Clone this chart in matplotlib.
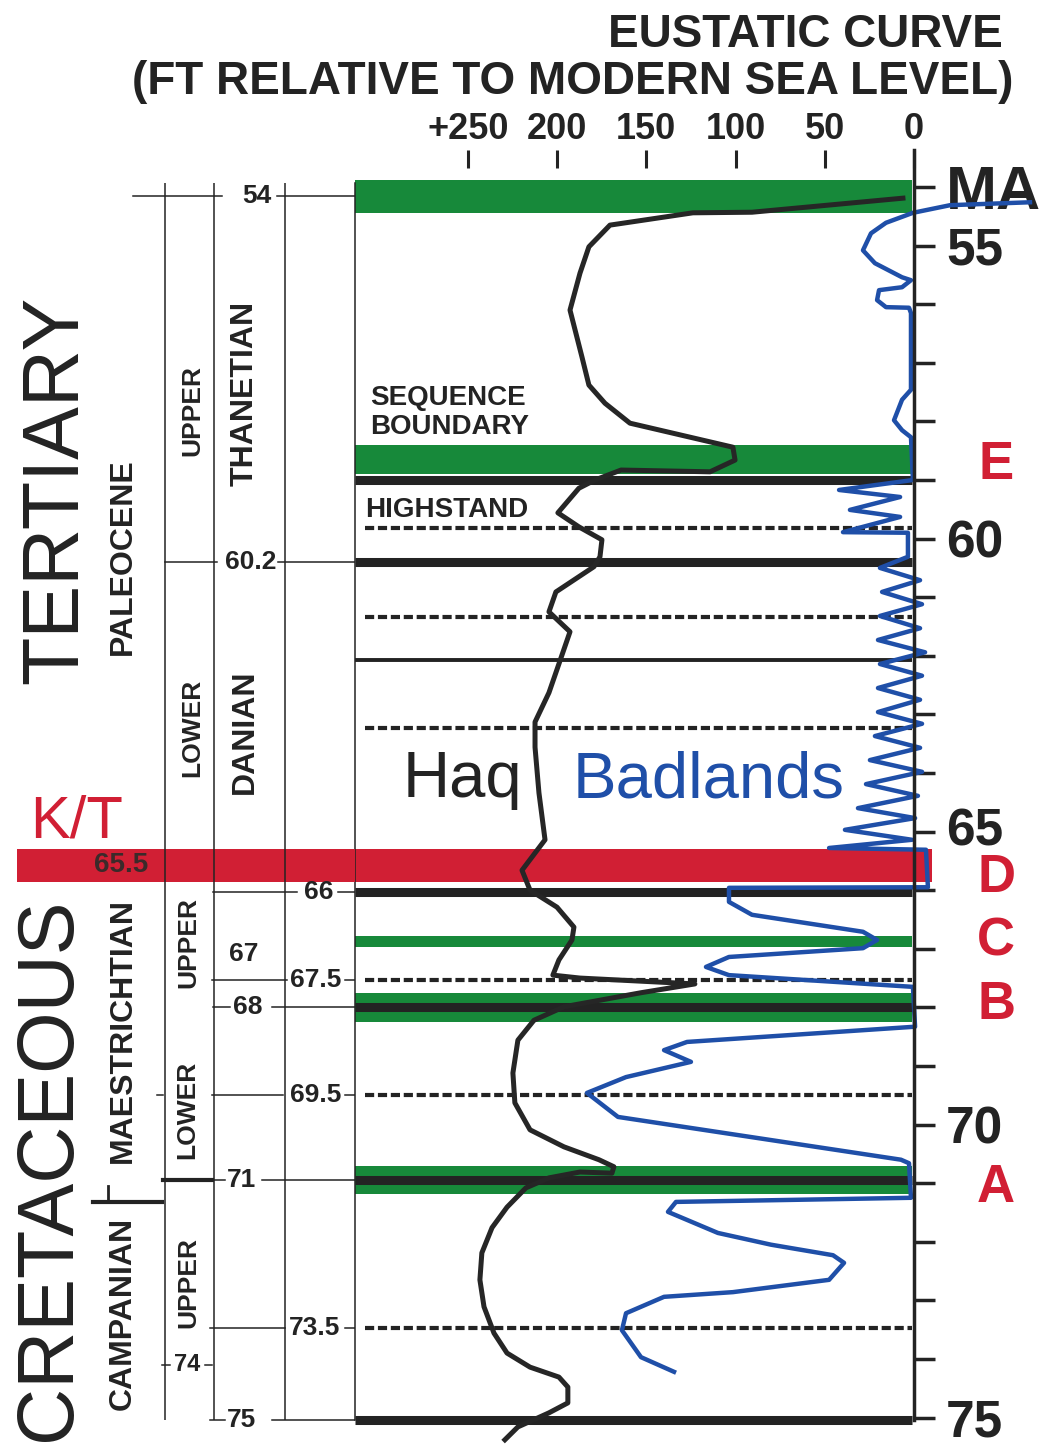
import matplotlib.pyplot as plt
from matplotlib.patches import Rectangle

plt.rcParams['font.family'] = ['Liberation Sans', 'DejaVu Sans']

INK = '#232323'
GREEN = '#17893a'
RED = '#d11f34'
BLUE = '#1f4fa8'

# Haq eustatic curve: sea level (ft above modern) vs age (Ma)
haq_ft = [6.2, 90.8, 123.9, 170.4, 182.2, 187.2, 192.8, 186.1, 182.2, 173.2,
          159.2, 101.5, 100.3, 114.3, 164.2, 178.8, 187.8, 199.6, 187.8, 174.9,
          176.0, 179.4, 200.7, 204.6, 192.8, 199.6, 204.6, 212.4, 212.4, 210.2,
          206.8, 219.7, 215.2, 200.1, 190.6, 191.7, 199.0, 202.4, 187.2, 122.8,
          153.0, 196.2, 213.0, 222.0, 224.8, 223.7, 215.2, 196.2, 176.6, 168.2,
          169.3, 187.2, 204.6, 217.5, 228.1, 236.5, 242.2, 243.3, 241.0, 235.4,
          228.1, 215.2, 199.0, 194.0, 194.0, 204.6, 222.0, 229.3]
haq_ma = [54.19, 54.43, 54.44, 54.65, 55.02, 55.47, 56.10, 56.90, 57.38, 57.69,
          58.03, 58.44, 58.66, 58.86, 58.83, 59.00, 59.14, 59.56, 59.80, 60.02,
          60.31, 60.48, 60.91, 61.25, 61.59, 62.19, 62.63, 63.13, 63.56, 64.34,
          65.14, 65.66, 66.00, 66.29, 66.63, 66.85, 67.19, 67.45, 67.50, 67.60,
          67.75, 67.99, 68.22, 68.56, 69.12, 69.63, 70.09, 70.38, 70.60, 70.72,
          70.83, 70.81, 70.91, 71.08, 71.41, 71.76, 72.19, 72.65, 73.11, 73.56,
          73.90, 74.14, 74.31, 74.48, 74.75, 74.92, 75.16, 75.38]

# Badlands curve
bad_ft = [-65.0, -20.2, 0.6, 15.7, 24.1, 28.6, 21.9, 6.7, 1.7, 6.7,
          19.6, 20.7, 15.7, 2.8, 1.7, 1.7, 6.7, 11.2, 6.7, 1.7,
          0.6, 42.0, 7.8, 35.9, 7.8, 39.8, 3.4, 3.4, 19.1, -3.4,
          17.9, -4.5, 19.1, -3.4, 20.2, -6.2, 19.1, -4.5, 20.2, -3.4,
          20.2, -4.5, 21.9, -3.4, 24.7, -4.5, 26.9, -2.2, 31.4, -0.6,
          38.7, 1.1, 47.6, -6.7, -7.8, 103.7, 103.7, 90.8, 28.6, 20.7,
          28.6, 103.7, 116.6, 103.7, 0.6, -0.6, 127.2, 140.1, 125.0, 161.4,
          183.3, 165.9, 7.3, 2.8, 1.7, 133.4, 137.9, 109.9, 80.2, 45.4,
          39.2, 47.6, 101.5, 140.1, 161.4, 163.7, 153.0, 134.5]
bad_ma = [54.26, 54.31, 54.44, 54.61, 54.79, 55.08, 55.30, 55.54, 55.59, 55.71,
          55.76, 55.93, 56.05, 56.06, 56.15, 57.46, 57.63, 57.98, 58.15, 58.27,
          59.00, 59.17, 59.29, 59.51, 59.63, 59.89, 59.90, 60.31, 60.50, 60.71,
          60.91, 61.12, 61.32, 61.53, 61.73, 61.94, 62.14, 62.34, 62.55, 62.75,
          62.96, 63.16, 63.37, 63.57, 63.78, 63.98, 64.19, 64.39, 64.60, 64.77,
          64.97, 65.14, 65.28, 65.31, 65.95, 65.96, 66.20, 66.42, 66.71, 66.85,
          66.99, 67.14, 67.31, 67.45, 67.65, 68.33, 68.59, 68.73, 68.93, 69.19,
          69.46, 69.87, 70.60, 70.66, 71.25, 71.32, 71.49, 71.85, 72.05, 72.23,
          72.36, 72.65, 72.86, 72.94, 73.22, 73.51, 73.97, 74.22]

# horizons in the chart (Ma)
green_top = [53.88, 58.40, 66.78, 67.75, 70.70]
green_bot = [54.44, 58.89, 66.97, 68.25, 71.18]
thick_ma = [59.0, 60.4, 66.03, 67.99, 70.95, 75.04]
thin_ma = [62.07]
dash_ma = [59.82, 61.34, 63.23, 67.53, 69.49, 73.47]
kt_top, kt_bot = 65.30, 65.86

ft_ticks = [250, 200, 150, 100, 50, 0]
ft_labels = ['+250', '200', '150', '100', '50', '0']
ma_ticks = list(range(54, 76))
ma_named = {54: 'MA', 55: '55', 60: '60', 65: '65', 70: '70', 75: '75'}

seq_letters = ['E', 'D', 'C', 'B', 'A']
seq_ma = [58.74, 65.80, 66.87, 67.96, 71.08]

# stratigraphic column
age_labels = ['54', '60.2', '66', '67', '67.5', '68', '69.5', '71', '73.5', '74', '75']
age_pos = [54.16, 60.40, 66.03, 67.09, 67.53, 67.99, 69.49, 70.95, 73.47, 74.10, 75.04]

unit_names = ['TERTIARY', 'CRETACEOUS', 'PALEOCENE', 'MAESTRICHTIAN', 'CAMPANIAN',
              'UPPER', 'LOWER', 'UPPER', 'LOWER', 'UPPER', 'THANETIAN', 'DANIAN']
unit_mid = [59.17, 70.77, 60.30, 68.40, 73.22, 57.82, 63.23, 66.90, 69.75, 72.69,
            57.52, 63.30]

# ---------------------------------------------------------------
W, H = 1052.0, 1448.0
top = 1 - 180 / H
fig = plt.figure(figsize=(10.52, 14.48), dpi=100)
ax = fig.add_axes([355 / W, 0, 559 / W, top])
axl = fig.add_axes([0, 0, 355 / W, top], sharey=ax)
ax.set_xlim(313.3, 0)
ax.set_ylim(75.52, 53.88)
axl.set_xlim(0, 355)
axl.axis('off')

# bands and horizons
for t, b in zip(green_top, green_bot):
    ax.axhspan(b, t, xmin=0, xmax=0.997, color=GREEN, lw=0, zorder=1)
ax.add_patch(Rectangle((-10.0, kt_top), 313.3 + 10.0, kt_bot - kt_top,
                       color=RED, lw=0, zorder=1.5, clip_on=False))
ax.hlines(thick_ma, 313.3, 1.0, color=INK, lw=6.5, zorder=2)
ax.hlines(thin_ma, 313.3, 1.0, color=INK, lw=2.8, zorder=2)
ax.hlines(dash_ma, 307.5, 1.0, color=INK, lw=3, linestyles=[(0, (2.2, 0.9))], zorder=2)

# curves
ax.plot(haq_ft, haq_ma, color='#262626', lw=3.6, zorder=3)
ax.plot(bad_ft, bad_ma, color=BLUE, lw=3.2, zorder=4, clip_on=False)

# axes
for side in ['right', 'bottom', 'top']:
    ax.spines[side].set_visible(False)
ax.spines['left'].set_bounds(53.93, 75.04)
ax.spines['left'].set_linewidth(1.1)
ax.spines['left'].set_color(INK)
ax.spines['top'].set_position(('outward', 9))
ax.plot([0, 0], [53.37, 75.05], color=INK, lw=2.5, clip_on=False, zorder=5)

ax.xaxis.set_ticks_position('top')
ax.set_xticks(ft_ticks, ft_labels)
ax.tick_params(axis='x', direction='out', length=13, width=2.2, pad=2,
               labelsize=26, colors=INK)
ax.yaxis.set_ticks_position('right')
ax.set_yticks(ma_ticks, [ma_named.get(m, '') for m in ma_ticks])
ax.tick_params(axis='y', direction='out', length=15, width=2.5, pad=8,
               labelsize=37, colors=INK)
for lab in ax.get_xticklabels() + ax.get_yticklabels():
    lab.set_fontweight('bold')
for lab in ax.get_yticklabels():
    if lab.get_text() == 'MA':
        lab.set_fontsize(44)
    elif lab.get_text() == '65':
        lab.set_va('center')

for s, m in zip(seq_letters, seq_ma):
    ax.text(-46, m, s, color=RED, fontsize=38, fontweight='bold',
            ha='center', va='center', clip_on=False)

# chart annotations
ax.text(304.9, 57.60, 'SEQUENCE', fontsize=20, fontweight='bold', color=INK, va='center')
ax.text(304.9, 58.10, 'BOUNDARY', fontsize=20, fontweight='bold', color=INK, va='center')
ax.text(307.7, 59.51, 'HIGHSTAND', fontsize=20, fontweight='bold', color=INK, va='center')
ax.text(286.4, 64.41, 'Haq', fontsize=47, color=INK, va='baseline')
ax.text(191.1, 64.41, 'Badlands', fontsize=47, color=BLUE, va='baseline')

# ---- stratigraphic column (left panel, units ~ px) ----
axl.add_patch(Rectangle((17, kt_top), 355 - 17, kt_bot - kt_top, color=RED, lw=0, zorder=0.5))
axl.vlines([165, 214, 285], 53.93, 75.04, color=INK, lw=1.1, zorder=2)

label_x = [257, 251, 319, 244, 316, 248, 316, 241, 315, 187, 242]
segments = [
    [(133, 222), (277, 355)],
    [(165, 217), (278, 355)],
    [(213, 297), (338, 355)],
    [],
    [(212, 287), (345, 355)],
    [(213, 230), (272, 355)],
    [(157, 163), (212, 283), (345, 355)],
    [(213, 225), (262, 355)],
    [(210, 285), (345, 355)],
    [(162, 170), (205, 212)],
    [(210, 225), (272, 355)],
]
for lab, pos, lx, segs in zip(age_labels, age_pos, label_x, segments):
    for x0, x1 in segs:
        axl.plot([x0, x1], [pos, pos], color=INK, lw=1.1, zorder=2)
    axl.text(lx, pos, lab, fontsize=17 if lab == '74' else 19, fontweight='bold',
             color=INK, ha='center', va='center', zorder=3)
axl.plot([163, 212], [70.95, 70.95], color=INK, lw=3, zorder=2)
axl.plot([93, 162], [71.32, 71.32], color=INK, lw=3, zorder=2)
axl.plot([108, 108], [71.05, 71.32], color=INK, lw=2, zorder=2)

unit_x = [57, 50, 123, 123, 123, 192, 192, 188, 187, 188, 245, 245]
unit_size = [57, 57, 23, 23, 23, 19, 19, 19, 19, 19, 23, 23]
for name, m, ux, fs in zip(unit_names, unit_mid, unit_x, unit_size):
    axl.text(ux, m, name, rotation=90, fontsize=fs, color=INK,
             fontweight='normal' if fs > 40 else 'bold',
             ha='center', va='center', zorder=3)

axl.text(77, 64.84, 'K/T', color=RED, fontsize=43, ha='center', va='center')
axl.text(121, 65.57, '65.5', color='#3b2a2a', fontsize=20, fontweight='bold',
         ha='center', va='center', zorder=3)

fig.text(805 / W, 1 - 35 / H, 'EUSTATIC CURVE', ha='center', va='center',
         fontsize=33, fontweight='bold', color=INK)
fig.text(573 / W, 1 - 82 / H, '(FT RELATIVE TO MODERN SEA LEVEL)', ha='center',
         va='center', fontsize=33, fontweight='bold', color=INK)

fig.savefig('out.png', dpi=100)
